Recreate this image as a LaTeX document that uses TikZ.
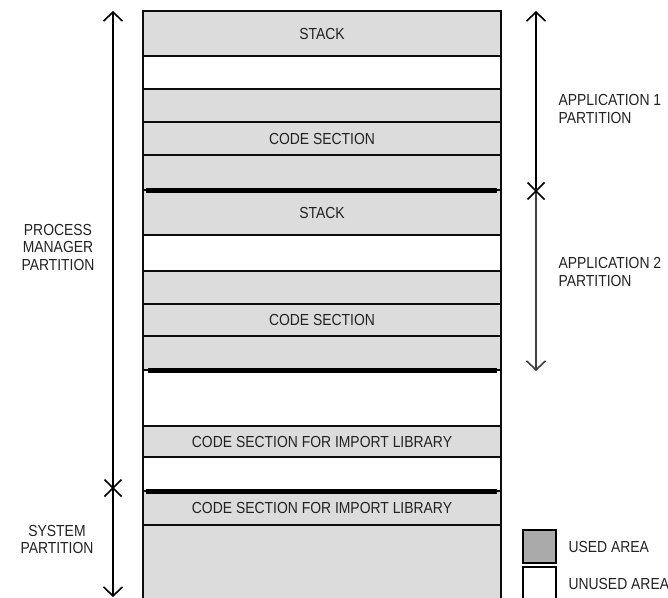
\documentclass[tikz,border=0pt]{standalone}
\usepackage{fontspec}
\newfontfamily\labfont[FakeStretch=0.87]{Liberation Sans}
\usetikzlibrary{arrows.meta}
\definecolor{usedgray}{HTML}{DCDCDC}
\definecolor{legendgray}{HTML}{AAAAAA}
\definecolor{txt}{HTML}{222222}
\begin{document}
\begin{tikzpicture}[x=1pt,y=-1pt,
  lab/.style={font=\labfont\fontsize{16}{17.5}\selectfont, text=txt},
  membox/.style={draw=black!95, line width=1.6pt, minimum width=358pt, inner sep=0pt, lab},
  used/.style={membox, fill=usedgray},
  unused/.style={membox, fill=white},
  boundary/.style={line width=5pt, black},
  dimline/.style={line width=1.6pt, black},
  tip/.style={-{Straight Barb[length=9pt,width=19pt,line width=1.6pt]}},
  xmark/.style={line width=1.6pt, black}
]
\useasboundingbox (0,0) rectangle (668,597);
% memory column
\node[used,   minimum height=45pt] (b1)  at (322,33.5)  {STACK};
\node[unused, minimum height=33pt] (b2)  at (322,72.5)  {};
\node[used,   minimum height=33pt] (b3)  at (322,105.5) {};
\node[used,   minimum height=33pt] (b4)  at (322,138.5) {CODE SECTION};
\node[used,   minimum height=35pt] (b5)  at (322,172.5) {};
\node[used,   minimum height=45pt] (b6)  at (322,212.5) {STACK};
\node[unused, minimum height=36pt] (b7)  at (322,253)   {};
\node[used,   minimum height=33pt] (b8)  at (322,287.5) {};
\node[used,   minimum height=32pt] (b9)  at (322,320)   {CODE SECTION};
\node[used,   minimum height=34pt] (b10) at (322,353)   {};
\node[unused, minimum height=56pt] (b11) at (322,398)   {};
\node[used,   minimum height=31pt] (b12) at (322,441.5) {CODE SECTION FOR IMPORT LIBRARY};
\node[unused, minimum height=34pt] (b13) at (322,474)   {};
\node[used,   minimum height=34pt] (b14) at (322,508)   {CODE SECTION FOR IMPORT LIBRARY};
\node[used,   minimum height=80pt] (b15) at (322,565)   {};
% partition boundaries
\coordinate (t1l) at (146,190); \coordinate (t1r) at (497,190);
\coordinate (t2l) at (148,370); \coordinate (t2r) at (497,370);
\coordinate (t3l) at (146,491.5); \coordinate (t3r) at (497,491.5);
\draw[boundary] (t1l) -- (t1r);
\draw[boundary] (t2l) -- (t2r);
\draw[boundary] (t3l) -- (t3r);
% left dimension line
\coordinate (ltop) at (113,11);
\coordinate (lx) at (113,488);
\coordinate (lbot) at (113,597);
\draw[dimline, tip] (lx) -- (ltop);
\draw[dimline, tip] (lx) -- (lbot);
\draw[xmark] (lx) +(-8.5,-8.5) -- +(8.5,8.5);
\draw[xmark] (lx) +(-8.5,8.5) -- +(8.5,-8.5);
% right dimension line
\coordinate (rtop) at (536,11);
\coordinate (rx) at (536,191);
\coordinate (rbot) at (536,371);
\draw[dimline, tip] (rx) -- (rtop);
\draw[dimline, tip, draw=black!75] (rx) -- (rbot);
\draw[xmark] (rx) +(-8.5,-8.5) -- +(8.5,8.5);
\draw[xmark] (rx) +(-8.5,8.5) -- +(8.5,-8.5);
% labels
\node[lab, align=center] (pm) at (58,247) {PROCESS\\MANAGER\\PARTITION};
\node[lab, align=center] (sp) at (57,539.5) {SYSTEM\\PARTITION};
\node[lab, align=left, anchor=west] (a1) at (555,109) {APPLICATION 1\\PARTITION};
\node[lab, align=left, anchor=west] (a2) at (555,272) {APPLICATION 2\\PARTITION};
% legend
\node[draw=black, line width=1.6pt, fill=legendgray, minimum size=33pt, inner sep=0pt] (lg1) at (539.5,546.5) {};
\node[draw=black, line width=1.6pt, fill=white, minimum size=33pt, inner sep=0pt] (lg2) at (539.5,583.5) {};
\node[lab, anchor=west] (lt1) at (565,546.5) {USED AREA};
\node[lab, anchor=west] (lt2) at (565,583.5) {UNUSED AREA};
\end{tikzpicture}
\end{document}
